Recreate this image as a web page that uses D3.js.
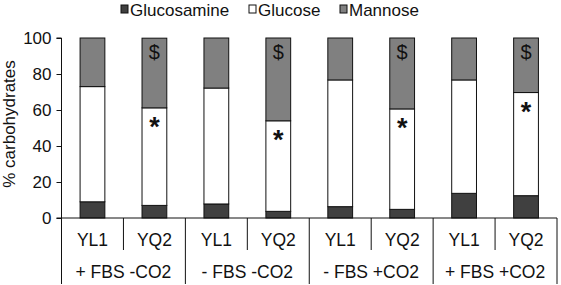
<!DOCTYPE html>
<html>
<head>
<meta charset="utf-8">
<script src="https://cdn.jsdelivr.net/npm/d3@7"></script>
<style>
  body { margin: 0; background: #fff; }
  svg text { font-family: "Liberation Sans", Arial, sans-serif; fill: #111; }
</style>
</head>
<body>
<div id="chart"></div>
<script>
// values (% of carbohydrates)
var strains = ["YL1", "YQ2", "YL1", "YQ2", "YL1", "YQ2", "YL1", "YQ2"];
var conditions = ["+ FBS -CO2", "- FBS -CO2", "- FBS +CO2", "+ FBS +CO2"];
var glucosamine = [9, 7, 7.8, 3.7, 6.3, 4.8, 13.7, 12.4];
var glucose = [64, 54.2, 64.4, 50.3, 70.4, 55.8, 63, 57.3];
var mannose = [27, 38.7, 27.8, 46, 23.3, 39.4, 23.3, 30.3];
var dollarMark = [false, true, false, true, false, true, false, true];
var starMark = [false, true, false, true, false, true, false, true];
var seriesNames = ["Glucosamine", "Glucose", "Mannose"];
var yTicks = [0, 20, 40, 60, 80, 100];

var W = 561, H = 285;
var margin = {left: 61.5, right: 4, top: 38, bottom: 67};
var colors = {Glucosamine: "#404040", Glucose: "#ffffff", Mannose: "#808080"};
var fs = "17px";

var svg = d3.select("#chart").append("svg")
    .attr("width", W).attr("height", H);

var x = d3.scaleBand()
    .domain(d3.range(strains.length))
    .range([margin.left, W - margin.right])
    .paddingInner(0.6).paddingOuter(0.3);
var y = d3.scaleLinear().domain([0, 100]).range([H - margin.bottom, margin.top]);

var rows = strains.map(function(s, i) {
    return {i: i, Glucosamine: glucosamine[i], Glucose: glucose[i], Mannose: mannose[i]};
});
var stacked = d3.stack().keys(seriesNames)(rows);

// bars
svg.append("g").selectAll("g")
    .data(stacked).enter().append("g")
    .attr("fill", function(d) { return colors[d.key]; })
    .selectAll("rect")
    .data(function(d) { return d; }).enter().append("rect")
    .attr("x", function(d) { return x(d.data.i); })
    .attr("width", x.bandwidth())
    .attr("y", function(d) { return y(d[1]); })
    .attr("height", function(d) { return y(d[0]) - y(d[1]); })
    .attr("stroke", "#111").attr("stroke-width", 1);

// significance marks
svg.append("g").selectAll("text")
    .data(stacked[1].filter(function(d) { return starMark[d.data.i]; }))
    .enter().append("text")
    .attr("x", function(d) { return x(d.data.i) + x.bandwidth() / 2; })
    .attr("y", function(d) { return y(d[1]) + 28; })
    .attr("text-anchor", "middle")
    .style("font-size", "27px").style("font-weight", "bold")
    .text("*");
svg.append("g").selectAll("text")
    .data(stacked[2].filter(function(d) { return dollarMark[d.data.i]; }))
    .enter().append("text")
    .attr("x", function(d) { return x(d.data.i) + x.bandwidth() / 2; })
    .attr("y", function(d) { return y(100) + 21; })
    .attr("text-anchor", "middle")
    .style("font-size", "20px")
    .text("$");

// y axis
var yAxis = d3.axisLeft(y).tickValues(yTicks).tickSize(5).tickPadding(5);
var gy = svg.append("g")
    .attr("transform", "translate(" + margin.left + ",0)")
    .call(yAxis);
gy.select(".domain").attr("stroke", "#111").attr("d", "M-5," + y(100) + "H0V" + y(0));
gy.selectAll(".tick line").attr("stroke", "#111");
gy.selectAll("text").style("font-size", fs).style("fill", "#111")
    .style("font-family", "'Liberation Sans', Arial, sans-serif");

svg.append("text")
    .attr("transform", "translate(15," + ((y(0) + y(100)) / 2 - 4) + ") rotate(-90)")
    .attr("text-anchor", "middle")
    .style("font-size", fs)
    .text("% carbohydrates");

// x axis: baseline, separators and two label rows
var xa = svg.append("g").attr("stroke", "#111").attr("stroke-width", 1);
var x0 = margin.left, x1 = W - margin.right;
xa.append("line").attr("x1", x0 - 5).attr("x2", x1).attr("y1", y(0)).attr("y2", y(0));
d3.range(strains.length + 1).forEach(function(k) {
    var xx = x0 + k * (x1 - x0) / strains.length;
    var bottom = (k % 2 === 0) ? 284 : 250;
    xa.append("line").attr("x1", xx).attr("x2", xx).attr("y1", y(0)).attr("y2", bottom);
});

var slotW = (x1 - x0) / strains.length;
svg.append("g").selectAll("text")
    .data(strains).enter().append("text")
    .attr("x", function(d, i) { return x0 + (i + 0.5) * slotW; })
    .attr("y", 246)
    .attr("text-anchor", "middle")
    .style("font-size", "17.5px")
    .text(function(d) { return d; });
svg.append("g").selectAll("text")
    .data(conditions).enter().append("text")
    .attr("x", function(d, i) { return x0 + (i + 0.5) * 2 * slotW; })
    .attr("y", 278)
    .attr("text-anchor", "middle")
    .style("font-size", "17.5px")
    .text(function(d) { return d; });

// legend
var legendX = [121, 249, 340];
var lg = svg.append("g").selectAll("g")
    .data(seriesNames).enter().append("g")
    .attr("transform", function(d, i) { return "translate(" + legendX[i] + ",5)"; });
lg.append("rect").attr("width", 7).attr("height", 8)
    .attr("fill", function(d) { return colors[d]; })
    .attr("stroke", "#111").attr("stroke-width", 1);
lg.append("text").attr("x", 9).attr("y", 11)
    .style("font-size", fs)
    .text(function(d) { return d; });
</script>
</body>
</html>
